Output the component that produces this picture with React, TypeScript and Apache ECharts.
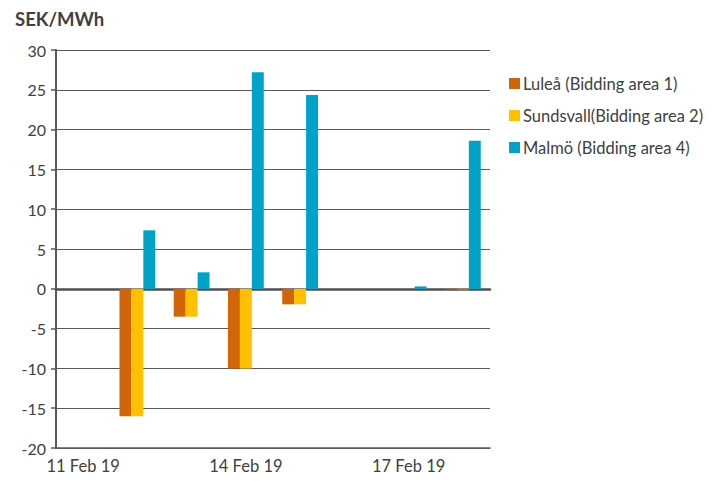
import React, { useEffect, useRef } from "react";
import * as echarts from "echarts";

const categories = ["11 Feb 19", "12 Feb 19", "13 Feb 19", "14 Feb 19", "15 Feb 19", "16 Feb 19", "17 Feb 19", "18 Feb 19"];
const lulea = [0, -16.0, -3.5, -10.0, -1.95, 0, 0, -0.08];
const sundsvall = [0, -16.0, -3.5, -10.0, -1.95, 0, 0, -0.08];
const malmo = [0, 7.35, 2.07, 27.2, 24.35, 0, 0.3, 18.6];
const seriesNames = ["Luleå (Bidding area 1)", "Sundsvall(Bidding area 2)", "Malmö (Bidding area 4)"];
const colors = ["#D2640A", "#FFC000", "#00A3C8"];

const FONT = "Lato, 'Open Sans', sans-serif";

export default function App() {
  const ref = useRef<HTMLDivElement>(null);
  useEffect(() => {
    if (!ref.current) return;
    const chart = echarts.init(ref.current, undefined, { renderer: "svg" });
    const data = [lulea, sundsvall, malmo];
    chart.setOption({
      animation: false,
      backgroundColor: "#ffffff",
      title: {
        text: "SEK/MWh",
        left: 10,
        top: 4,
        textStyle: { fontFamily: FONT, fontSize: 18.5, fontWeight: "bold", color: "#404040" },
      },
      legend: {
        orient: "vertical",
        left: 504,
        top: 70,
        itemWidth: 11,
        itemHeight: 11,
        itemGap: 15,
        icon: "rect",
        textStyle: { fontFamily: FONT, fontSize: 16.5, color: "#404040", padding: [0, 0, 0, -2] },
        data: seriesNames,
      },
      grid: { left: 56, right: 224, top: 50, bottom: 34, containLabel: false },
      xAxis: [
        {
          type: "category",
          data: categories,
          position: "bottom",
          axisLine: { show: true, onZero: false, lineStyle: { color: "#595959", width: 1.5 } },
          axisTick: { show: false },
          axisLabel: { interval: 2, fontFamily: FONT, fontSize: 16.5, color: "#404040", margin: 9 },
        },
        {
          type: "category",
          data: categories,
          position: "bottom",
          axisLine: { show: true, onZero: true, lineStyle: { color: "#505050", width: 2.5 } },
          axisTick: { show: false },
          axisLabel: { show: false },
        },
      ],
      yAxis: {
        type: "value",
        min: -20,
        max: 30,
        interval: 5,
        axisLine: { show: true, lineStyle: { color: "#595959", width: 2 } },
        axisTick: { show: true, length: 5, lineStyle: { color: "#595959", width: 1.5 } },
        axisLabel: { fontFamily: FONT, fontSize: 16, color: "#404040", margin: 10 },
        splitLine: { show: true, lineStyle: { color: "#595959", width: 1.2 } },
      },
      series: seriesNames.map((name, i) => ({
        name,
        type: "bar",
        data: data[i],
        barGap: "0%",
        barCategoryGap: "34%",
        itemStyle: { color: colors[i] },
        z: 3,
      })),
    });
    return () => chart.dispose();
  }, []);
  return <div ref={ref} style={{ width: 714, height: 482, position: "absolute", left: 0, top: 0 }} />;
}
